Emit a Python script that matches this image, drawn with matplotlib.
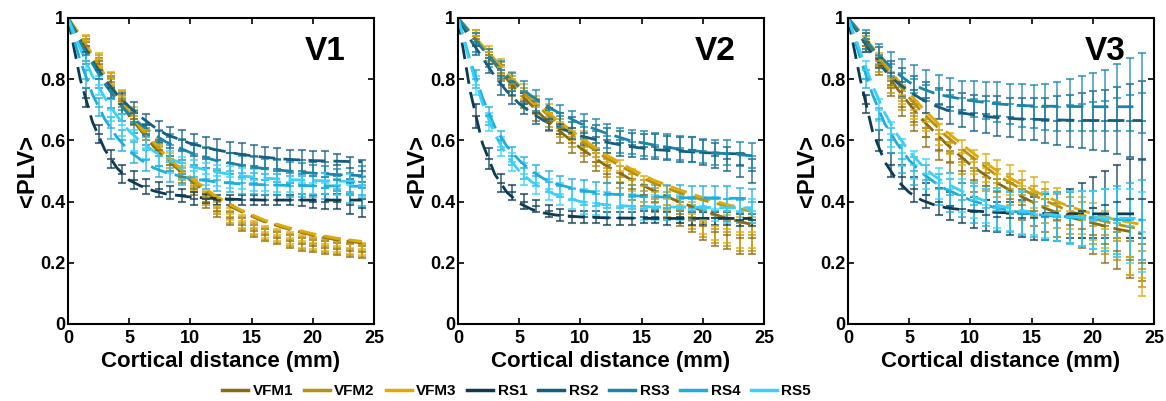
import matplotlib
matplotlib.use("Agg")
import matplotlib.pyplot as plt
from matplotlib.lines import Line2D

plt.rcParams['font.family'] = ['Liberation Sans', 'DejaVu Sans']
plt.rcParams['font.weight'] = 'bold'

SERIES = ["VFM1", "VFM2", "VFM3", "RS1", "RS2", "RS3", "RS4", "RS5"]
COLORS = ["#8C6A14", "#B8910E", "#DDAA0A", "#0D3B52", "#155E7E", "#1A85AA", "#1EAEDD", "#3AD0FA"]
PANELS = ["V1", "V2", "V3"]

# cortical distance of the measured points (mm)
DIST = [1.5, 2.5, 3.5, 4.4, 5.4, 6.4, 7.4, 8.3, 9.3, 10.3, 11.3, 12.2,
        13.2, 14.2, 15.2, 16.1, 17.1, 18.1, 19.1, 20.0, 21.0, 22.0, 23.0, 24.0]
# distances where the fitted curves were read
FIT_X = [0, 1, 2, 3, 4, 5, 6, 7, 8, 10, 12, 14, 16, 18, 20, 22, 24]

# ---------------- V1 ----------------
V1_VFM1 = [0.91, 0.85, 0.79, 0.73, 0.67, 0.62, 0.57, 0.52, 0.48, 0.44, 0.40, 0.37, 0.345, 0.325, 0.305, 0.29, 0.28, 0.27, 0.26, 0.255, 0.25, 0.245, 0.24, 0.235]
V1_VFM2 = [0.92, 0.86, 0.80, 0.74, 0.68, 0.63, 0.58, 0.53, 0.49, 0.45, 0.41, 0.38, 0.35, 0.33, 0.31, 0.295, 0.285, 0.275, 0.265, 0.26, 0.255, 0.25, 0.245, 0.24]
V1_VFM3 = [0.925, 0.865, 0.805, 0.745, 0.69, 0.635, 0.585, 0.54, 0.495, 0.455, 0.415, 0.385, 0.36, 0.335, 0.315, 0.3, 0.29, 0.28, 0.27, 0.265, 0.26, 0.255, 0.25, 0.245]
V1_RS1 = [0.74, 0.62, 0.54, 0.49, 0.47, 0.45, 0.44, 0.43, 0.42, 0.41, 0.41, 0.405, 0.405, 0.405, 0.405, 0.405, 0.405, 0.405, 0.405, 0.40, 0.40, 0.40, 0.39, 0.38]
V1_RS2 = [0.89, 0.83, 0.77, 0.72, 0.69, 0.65, 0.63, 0.61, 0.60, 0.585, 0.575, 0.57, 0.56, 0.555, 0.55, 0.545, 0.54, 0.535, 0.535, 0.53, 0.53, 0.52, 0.51, 0.50]
V1_RS3 = [0.88, 0.80, 0.74, 0.70, 0.66, 0.62, 0.60, 0.585, 0.57, 0.555, 0.545, 0.535, 0.525, 0.515, 0.51, 0.505, 0.50, 0.495, 0.49, 0.485, 0.48, 0.47, 0.46, 0.48]
V1_RS4 = [0.80, 0.71, 0.64, 0.60, 0.56, 0.535, 0.515, 0.50, 0.49, 0.48, 0.475, 0.47, 0.465, 0.46, 0.46, 0.455, 0.455, 0.45, 0.45, 0.45, 0.445, 0.44, 0.43, 0.42]
V1_RS5 = [0.86, 0.78, 0.70, 0.65, 0.60, 0.575, 0.55, 0.53, 0.51, 0.50, 0.49, 0.485, 0.48, 0.475, 0.47, 0.47, 0.465, 0.465, 0.46, 0.46, 0.46, 0.455, 0.455, 0.45]
V1_VFM_ERR = [0.02, 0.02, 0.02, 0.02, 0.02, 0.02, 0.02, 0.02, 0.02, 0.02, 0.02, 0.02, 0.02, 0.02, 0.02, 0.02, 0.02, 0.02, 0.02, 0.02, 0.02, 0.02, 0.02, 0.02]
V1_RS1_ERR = [0.03, 0.03, 0.03, 0.03, 0.03, 0.025, 0.025, 0.02, 0.02, 0.02, 0.015, 0.015, 0.015, 0.015, 0.015, 0.015, 0.015, 0.015, 0.02, 0.02, 0.025, 0.025, 0.03, 0.03]
V1_RS_ERR = [0.03, 0.03, 0.035, 0.035, 0.035, 0.035, 0.035, 0.035, 0.035, 0.035, 0.035, 0.035, 0.035, 0.035, 0.035, 0.035, 0.035, 0.035, 0.035, 0.035, 0.035, 0.035, 0.035, 0.035]

V1_FIT_VFM1 = [1, 0.94, 0.87, 0.80, 0.74, 0.68, 0.63, 0.58, 0.54, 0.47, 0.41, 0.37, 0.335, 0.31, 0.29, 0.275, 0.265]
V1_FIT_VFM2 = [1, 0.94, 0.875, 0.81, 0.745, 0.69, 0.635, 0.59, 0.545, 0.475, 0.415, 0.372, 0.338, 0.312, 0.292, 0.278, 0.268]
V1_FIT_VFM3 = [1, 0.945, 0.88, 0.815, 0.75, 0.695, 0.64, 0.595, 0.55, 0.48, 0.42, 0.375, 0.34, 0.315, 0.295, 0.28, 0.27]
V1_FIT_RS1 = [1, 0.80, 0.66, 0.57, 0.51, 0.47, 0.45, 0.435, 0.425, 0.415, 0.41, 0.407, 0.405, 0.405, 0.405, 0.405, 0.405]
V1_FIT_RS2 = [1, 0.93, 0.86, 0.80, 0.75, 0.71, 0.675, 0.645, 0.62, 0.59, 0.57, 0.555, 0.545, 0.538, 0.534, 0.532, 0.53]
V1_FIT_RS3 = [1, 0.92, 0.85, 0.785, 0.73, 0.685, 0.65, 0.62, 0.595, 0.56, 0.535, 0.52, 0.508, 0.50, 0.493, 0.488, 0.485]
V1_FIT_RS4 = [1, 0.86, 0.75, 0.67, 0.61, 0.565, 0.535, 0.51, 0.495, 0.475, 0.465, 0.458, 0.455, 0.453, 0.452, 0.451, 0.45]
V1_FIT_RS5 = [1, 0.90, 0.81, 0.74, 0.68, 0.63, 0.595, 0.565, 0.545, 0.515, 0.497, 0.485, 0.477, 0.472, 0.469, 0.467, 0.465]

# ---------------- V2 ----------------
V2_VFM1 = [0.93, 0.87, 0.82, 0.77, 0.73, 0.69, 0.66, 0.62, 0.59, 0.56, 0.53, 0.49, 0.46, 0.44, 0.42, 0.40, 0.38, 0.36, 0.34, 0.32, 0.30, 0.29, 0.28, 0.28]
V2_VFM2 = [0.94, 0.88, 0.83, 0.785, 0.745, 0.71, 0.675, 0.64, 0.61, 0.58, 0.545, 0.51, 0.48, 0.455, 0.435, 0.41, 0.39, 0.37, 0.35, 0.33, 0.31, 0.30, 0.29, 0.29]
V2_VFM3 = [0.94, 0.89, 0.84, 0.80, 0.76, 0.72, 0.69, 0.66, 0.63, 0.60, 0.56, 0.53, 0.50, 0.47, 0.45, 0.43, 0.41, 0.39, 0.36, 0.34, 0.32, 0.31, 0.30, 0.30]
V2_RS1 = [0.68, 0.54, 0.46, 0.43, 0.40, 0.385, 0.37, 0.355, 0.35, 0.35, 0.35, 0.345, 0.345, 0.345, 0.35, 0.35, 0.345, 0.35, 0.345, 0.345, 0.345, 0.345, 0.34, 0.34]
V2_RS2 = [0.91, 0.85, 0.78, 0.75, 0.72, 0.69, 0.67, 0.655, 0.64, 0.625, 0.61, 0.60, 0.59, 0.585, 0.58, 0.58, 0.575, 0.57, 0.57, 0.56, 0.55, 0.54, 0.52, 0.50]
V2_RS3 = [0.92, 0.87, 0.83, 0.79, 0.76, 0.73, 0.70, 0.68, 0.66, 0.645, 0.63, 0.615, 0.60, 0.595, 0.59, 0.585, 0.58, 0.575, 0.57, 0.565, 0.56, 0.56, 0.555, 0.55]
V2_RS4 = [0.80, 0.68, 0.60, 0.55, 0.51, 0.485, 0.465, 0.45, 0.44, 0.43, 0.425, 0.42, 0.42, 0.415, 0.415, 0.415, 0.415, 0.415, 0.41, 0.41, 0.41, 0.41, 0.405, 0.40]
V2_RS5 = [0.78, 0.66, 0.58, 0.53, 0.49, 0.46, 0.44, 0.425, 0.41, 0.40, 0.395, 0.39, 0.385, 0.385, 0.38, 0.38, 0.38, 0.38, 0.375, 0.375, 0.375, 0.37, 0.37, 0.37]
V2_VFM_ERR = [0.02, 0.02, 0.025, 0.025, 0.025, 0.025, 0.03, 0.03, 0.03, 0.03, 0.03, 0.03, 0.035, 0.035, 0.035, 0.035, 0.04, 0.04, 0.04, 0.045, 0.045, 0.045, 0.05, 0.05]
V2_RS1_ERR = [0.04, 0.035, 0.03, 0.025, 0.025, 0.02, 0.02, 0.02, 0.02, 0.02, 0.02, 0.02, 0.02, 0.02, 0.02, 0.02, 0.02, 0.02, 0.02, 0.02, 0.02, 0.02, 0.02, 0.02]
V2_RS_ERR = [0.03, 0.03, 0.03, 0.03, 0.035, 0.035, 0.035, 0.035, 0.035, 0.04, 0.04, 0.04, 0.04, 0.04, 0.04, 0.04, 0.04, 0.04, 0.04, 0.04, 0.04, 0.04, 0.04, 0.04]

V2_FIT_VFM1 = [1, 0.95, 0.90, 0.85, 0.80, 0.755, 0.715, 0.675, 0.64, 0.575, 0.52, 0.475, 0.435, 0.40, 0.37, 0.345, 0.325]
V2_FIT_VFM2 = [1, 0.955, 0.905, 0.86, 0.815, 0.77, 0.73, 0.695, 0.66, 0.60, 0.545, 0.50, 0.46, 0.43, 0.405, 0.385, 0.368]
V2_FIT_VFM3 = [1, 0.955, 0.91, 0.865, 0.82, 0.78, 0.74, 0.705, 0.67, 0.61, 0.555, 0.51, 0.47, 0.44, 0.413, 0.39, 0.372]
V2_FIT_RS1 = [1, 0.76, 0.59, 0.49, 0.43, 0.395, 0.375, 0.363, 0.356, 0.35, 0.347, 0.346, 0.345, 0.345, 0.345, 0.345, 0.345]
V2_FIT_RS2 = [1, 0.93, 0.87, 0.81, 0.76, 0.72, 0.69, 0.665, 0.645, 0.615, 0.595, 0.58, 0.57, 0.565, 0.56, 0.557, 0.555]
V2_FIT_RS3 = [1, 0.95, 0.90, 0.855, 0.81, 0.775, 0.745, 0.72, 0.695, 0.655, 0.625, 0.60, 0.585, 0.572, 0.563, 0.556, 0.55]
V2_FIT_RS4 = [1, 0.86, 0.74, 0.645, 0.58, 0.535, 0.50, 0.475, 0.458, 0.437, 0.426, 0.42, 0.416, 0.413, 0.412, 0.411, 0.41]
V2_FIT_RS5 = [1, 0.85, 0.72, 0.62, 0.55, 0.50, 0.465, 0.44, 0.422, 0.40, 0.39, 0.385, 0.383, 0.382, 0.381, 0.38, 0.38]

# ---------------- V3 ----------------
V3_VFM1 = [0.91, 0.84, 0.77, 0.71, 0.66, 0.61, 0.57, 0.53, 0.50, 0.47, 0.45, 0.43, 0.41, 0.39, 0.37, 0.355, 0.34, 0.325, 0.31, 0.29, 0.26, 0.24, 0.21, 0.20]
V3_VFM2 = [0.92, 0.85, 0.78, 0.73, 0.68, 0.64, 0.60, 0.56, 0.53, 0.50, 0.48, 0.46, 0.44, 0.42, 0.40, 0.385, 0.37, 0.355, 0.34, 0.32, 0.29, 0.27, 0.22, 0.18]
V3_VFM3 = [0.93, 0.86, 0.80, 0.75, 0.70, 0.66, 0.62, 0.59, 0.56, 0.53, 0.51, 0.49, 0.47, 0.45, 0.43, 0.41, 0.39, 0.37, 0.355, 0.335, 0.31, 0.28, 0.22, 0.15]
V3_RS1 = [0.72, 0.60, 0.52, 0.48, 0.44, 0.42, 0.40, 0.385, 0.375, 0.365, 0.355, 0.35, 0.345, 0.345, 0.345, 0.35, 0.35, 0.36, 0.37, 0.38, 0.39, 0.40, 0.41, 0.41]
V3_RS2 = [0.92, 0.87, 0.82, 0.79, 0.765, 0.74, 0.72, 0.71, 0.70, 0.69, 0.685, 0.68, 0.675, 0.67, 0.67, 0.665, 0.665, 0.665, 0.665, 0.665, 0.665, 0.665, 0.665, 0.665]
V3_RS3 = [0.93, 0.88, 0.85, 0.82, 0.80, 0.78, 0.765, 0.75, 0.74, 0.735, 0.73, 0.725, 0.72, 0.715, 0.71, 0.71, 0.71, 0.715, 0.72, 0.725, 0.73, 0.74, 0.75, 0.755]
V3_RS4 = [0.80, 0.67, 0.60, 0.54, 0.50, 0.47, 0.44, 0.42, 0.405, 0.39, 0.38, 0.37, 0.365, 0.36, 0.355, 0.35, 0.35, 0.345, 0.345, 0.34, 0.34, 0.34, 0.34, 0.34]
V3_RS5 = [0.83, 0.70, 0.62, 0.56, 0.52, 0.49, 0.46, 0.44, 0.42, 0.405, 0.39, 0.38, 0.37, 0.365, 0.36, 0.355, 0.35, 0.35, 0.345, 0.34, 0.34, 0.33, 0.32, 0.30]
V3_VFM_ERR = [0.02, 0.025, 0.025, 0.03, 0.03, 0.03, 0.035, 0.035, 0.04, 0.04, 0.045, 0.045, 0.05, 0.05, 0.05, 0.055, 0.055, 0.06, 0.06, 0.06, 0.06, 0.06, 0.06, 0.06]
V3_RS1_ERR = [0.03, 0.035, 0.04, 0.04, 0.04, 0.04, 0.045, 0.045, 0.045, 0.05, 0.05, 0.05, 0.055, 0.06, 0.07, 0.075, 0.08, 0.08, 0.09, 0.10, 0.11, 0.12, 0.13, 0.13]
V3_RS_ERR = [0.03, 0.035, 0.04, 0.045, 0.045, 0.05, 0.05, 0.055, 0.055, 0.06, 0.06, 0.065, 0.065, 0.07, 0.07, 0.075, 0.08, 0.085, 0.09, 0.095, 0.10, 0.11, 0.12, 0.13]

V3_FIT_VFM1 = [1, 0.95, 0.89, 0.83, 0.77, 0.72, 0.67, 0.63, 0.59, 0.52, 0.465, 0.42, 0.38, 0.35, 0.33, 0.31, 0.295]
V3_FIT_VFM2 = [1, 0.955, 0.90, 0.845, 0.79, 0.74, 0.695, 0.655, 0.615, 0.55, 0.49, 0.445, 0.405, 0.37, 0.345, 0.325, 0.31]
V3_FIT_VFM3 = [1, 0.955, 0.905, 0.855, 0.80, 0.755, 0.71, 0.67, 0.63, 0.565, 0.505, 0.46, 0.42, 0.385, 0.36, 0.34, 0.325]
V3_FIT_RS1 = [1, 0.80, 0.63, 0.53, 0.47, 0.43, 0.405, 0.39, 0.38, 0.37, 0.365, 0.362, 0.361, 0.36, 0.36, 0.36, 0.36]
V3_FIT_RS2 = [1, 0.94, 0.88, 0.83, 0.79, 0.76, 0.735, 0.715, 0.70, 0.685, 0.675, 0.67, 0.668, 0.666, 0.665, 0.665, 0.665]
V3_FIT_RS3 = [1, 0.95, 0.90, 0.86, 0.82, 0.79, 0.77, 0.755, 0.745, 0.73, 0.72, 0.714, 0.712, 0.711, 0.71, 0.71, 0.71]
V3_FIT_RS4 = [1, 0.87, 0.75, 0.655, 0.59, 0.535, 0.495, 0.465, 0.44, 0.405, 0.38, 0.365, 0.355, 0.35, 0.345, 0.342, 0.34]
V3_FIT_RS5 = [1, 0.89, 0.78, 0.69, 0.62, 0.565, 0.52, 0.485, 0.46, 0.42, 0.39, 0.372, 0.36, 0.352, 0.348, 0.346, 0.345]

means = [
    [V1_VFM1, V1_VFM2, V1_VFM3, V1_RS1, V1_RS2, V1_RS3, V1_RS4, V1_RS5],
    [V2_VFM1, V2_VFM2, V2_VFM3, V2_RS1, V2_RS2, V2_RS3, V2_RS4, V2_RS5],
    [V3_VFM1, V3_VFM2, V3_VFM3, V3_RS1, V3_RS2, V3_RS3, V3_RS4, V3_RS5],
]
errs = [
    [V1_VFM_ERR] * 3 + [V1_RS1_ERR] + [V1_RS_ERR] * 4,
    [V2_VFM_ERR] * 3 + [V2_RS1_ERR] + [V2_RS_ERR] * 4,
    [V3_VFM_ERR] * 3 + [V3_RS1_ERR] + [V3_RS_ERR] * 4,
]
fits = [
    [V1_FIT_VFM1, V1_FIT_VFM2, V1_FIT_VFM3, V1_FIT_RS1, V1_FIT_RS2, V1_FIT_RS3, V1_FIT_RS4, V1_FIT_RS5],
    [V2_FIT_VFM1, V2_FIT_VFM2, V2_FIT_VFM3, V2_FIT_RS1, V2_FIT_RS2, V2_FIT_RS3, V2_FIT_RS4, V2_FIT_RS5],
    [V3_FIT_VFM1, V3_FIT_VFM2, V3_FIT_VFM3, V3_FIT_RS1, V3_FIT_RS2, V3_FIT_RS3, V3_FIT_RS4, V3_FIT_RS5],
]

fig = plt.figure(figsize=(11.66, 4.01), dpi=100)
lefts = [68 / 1166, 458 / 1166, 848 / 1166]
width = 306 / 1166
bottom = 1 - 324 / 401
height = 306 / 401

for p, name in enumerate(PANELS):
    ax = fig.add_axes([lefts[p], bottom, width, height])
    for i in range(len(SERIES)):
        ax.errorbar(DIST, means[p][i], yerr=errs[p][i], fmt='_', color=COLORS[i],
                    ms=6, mew=1.5, elinewidth=1.3, capsize=3, capthick=1.3, alpha=0.7)
    for i in range(len(SERIES)):
        ax.plot(FIT_X, fits[p][i], color=COLORS[i], lw=2, dashes=(6, 3))
    ax.set_xlim(0, 25)
    ax.set_ylim(0, 1)
    ax.set_xticks([0, 5, 10, 15, 20, 25])
    ax.set_yticks([0, 0.2, 0.4, 0.6, 0.8, 1])
    ax.set_yticklabels(["0", "0.2", "0.4", "0.6", "0.8", "1"])
    ax.tick_params(direction='in', top=True, right=True, length=4, width=1.2,
                   labelsize=13)
    ax.tick_params(axis='x', pad=4)
    ax.tick_params(axis='y', pad=2)
    for lab in ax.get_xticklabels() + ax.get_yticklabels():
        lab.set_fontweight('bold')
    for s in ax.spines.values():
        s.set_linewidth(1.5)
    ax.set_xlabel("Cortical distance (mm)", fontsize=16, fontweight='bold', labelpad=3)
    ax.set_ylabel("<PLV>", fontsize=17, fontweight='bold', labelpad=1)
    ax.text(0.84, 0.892, name, transform=ax.transAxes, fontsize=24,
            fontweight='bold', ha='center', va='center')

handles = [Line2D([0], [0], color=c, lw=2.5) for c in COLORS]
fig.legend(handles, SERIES, loc='center', bbox_to_anchor=(0.443, 0.024), ncol=8,
           frameon=False, handlelength=1.7, handletextpad=0.3, columnspacing=0.7,
           prop={'weight': 'bold', 'size': 11})

fig.savefig("out.png", dpi=100)
